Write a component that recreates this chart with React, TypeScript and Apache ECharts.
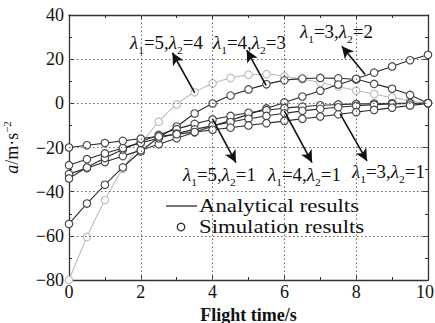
import React, { useEffect, useRef } from "react";
import * as echarts from "echarts";

const times = [0, 0.5, 1, 1.5, 2, 2.5, 3, 3.5, 4, 4.5, 5, 5.5, 6, 6.5, 7, 7.5, 8, 8.5, 9, 9.5, 10];
const s54 = [-80, -60.5, -43.8, -29.6, -18.5, -8.3, -0.5, 5.0, 9.0, 11.5, 12.9, 13.2, 12.3, 11.0, 9.4, 7.5, 5.8, 4.2, 2.6, 1.2, 0];
const s43 = [-54.6, -45.4, -36.9, -29.0, -21.8, -15.5, -10.5, -4.6, -0.1, 3.5, 6.3, 8.6, 10.4, 11.2, 11.5, 11.3, 10.8, 8.8, 6.6, 3.8, 0];
const s32 = [-32, -29.3, -26.6, -23.9, -21.2, -18.5, -15.8, -13.1, -10.4, -7.7, -5.0, -2.3, 0.4, 3.1, 5.7, 8.5, 11.1, 13.9, 16.7, 19.5, 22];
const s51 = [-34, -29.1, -24.8, -20.9, -17.4, -14.3, -11.7, -9.3, -7.3, -5.7, -4.3, -3.1, -2.2, -1.5, -0.9, -0.5, -0.3, -0.1, 0, 0, 0];
const s41 = [-28, -25.3, -22.7, -20.2, -17.9, -15.8, -13.7, -11.8, -10.1, -8.5, -7.0, -5.7, -4.5, -3.4, -2.5, -1.8, -1.1, -0.6, -0.3, -0.1, 0];
const s31 = [-20, -19, -18, -17, -16, -15, -14, -13, -12, -11, -10, -9, -8, -7, -6, -5, -4, -3, -2, -1, 0];

const xGrid = [2, 4, 6, 8];
const yGrid = [-60, -40, -20, 0, 20];

const curveNames = ["λ1=5,λ2=4", "λ1=4,λ2=3", "λ1=3,λ2=2", "λ1=5,λ2=1", "λ1=4,λ2=1", "λ1=3,λ2=1"];
const curveData = [s54, s43, s32, s51, s41, s31];
const curveLabels = [
  ["5", "4"],
  ["4", "3"],
  ["3", "2"],
  ["5", "1"],
  ["4", "1"],
  ["3", "1"],
];
// arrows: [tail (on curve), head (at label)] in data coords
const arrowPairs = [
  [[3.5, 4.8], [2.88, 22.9]],
  [[5.49, 8.1], [4.95, 24.1]],
  [[8.25, 13.1], [7.6, 25.9]],
  [[4.0, -7.2], [4.65, -26.8]],
  [[6.0, -3.5], [6.77, -26.8]],
  [[7.55, -4.7], [8.3, -26.1]],
];

const FONT = '"Liberation Serif", "Times New Roman", serif';
const DARK = "#2a2a2a";
const LIGHT = "#bdbdbd";

export default function App() {
  const ref = useRef<HTMLDivElement>(null);
  useEffect(() => {
    if (!ref.current) return;
    const chart = echarts.init(ref.current, null, { renderer: "svg" });
    const fmtY = (v: number) => (v < 0 ? "\u2212" + Math.abs(v) : String(v));
    const axisCommon = {
      axisLine: { show: true, onZero: false, lineStyle: { color: "#333", width: 1.3 } },
      axisTick: { show: true, inside: true, length: 5, lineStyle: { color: "#333" } },
      minorTick: { show: true, splitNumber: 2, length: 3, lineStyle: { color: "#333" } },
    };
    const rich = {
      l: { fontFamily: FONT, fontSize: 18, fontStyle: "italic", lineHeight: 26, color: "#111" },
      s: { fontFamily: FONT, fontSize: 11, lineHeight: 11, verticalAlign: "bottom", color: "#111" },
      t: { fontFamily: FONT, fontSize: 18, lineHeight: 26, color: "#111" },
    };
    const labelPos = [
      [130, 43],
      [213, 43],
      [300, 32],
      [183, 175],
      [268, 175],
      [352, 172],
    ];
    const graphics: any[] = curveLabels.map((p, i) => ({
      type: "text",
      x: labelPos[i][0],
      y: labelPos[i][1],
      scaleX: 1.05,
      style: {
        text: `{l|λ}{s|1}{t|=${p[0]},}{l|λ}{s|2}{t|=${p[1]}}`,
        rich,
        align: "left",
        verticalAlign: "middle",
        fill: "#111",
      },
    }));
    graphics.push(
      { type: "line", shape: { x1: 166, y1: 206, x2: 197, y2: 206 }, style: { stroke: DARK, lineWidth: 1.3 } },
      {
        type: "text", x: 199, y: 206, scaleX: 1.2,
        style: { text: "Analytical results", font: `19px ${FONT}`, fill: "#111", align: "left", verticalAlign: "middle" },
      },
      { type: "circle", shape: { cx: 181, cy: 227, r: 3.8 }, style: { stroke: DARK, fill: "#fff", lineWidth: 1.2 } },
      {
        type: "text", x: 199, y: 227, scaleX: 1.2,
        style: { text: "Simulation results", font: `19px ${FONT}`, fill: "#111", align: "left", verticalAlign: "middle" },
      }
    );

    const series: any[] = [
      {
        name: "grid",
        type: "line",
        data: [],
        silent: true,
        z: 1,
        markLine: {
          silent: true,
          symbol: ["none", "none"],
          label: { show: false },
          lineStyle: { color: "#666", type: [1.5, 2.5], width: 1 },
          data: [...xGrid.map((v) => ({ xAxis: v })), ...yGrid.map((v) => ({ yAxis: v }))],
        },
      },
    ];
    curveData.forEach((d, i) =>
      series.push({
        name: curveNames[i],
        type: "line",
        data: times.map((t, k) => [t, d[k]]),
        smooth: 0.3,
        symbol: "circle",
        symbolSize: 7.5,
        showSymbol: true,
        lineStyle: { color: i === 0 ? LIGHT : DARK, width: 1.1 },
        itemStyle: { color: "#fff", borderColor: i === 0 ? LIGHT : "#444", borderWidth: 1.1 },
        z: i === 0 ? 2 : 3,
        silent: true,
      })
    );
    series[3].markLine = {
      silent: true,
      symbol: ["none", "arrow"],
      symbolSize: [9, 12],
      label: { show: false },
      lineStyle: { color: "#111", width: 1.6, type: "solid" },
      data: arrowPairs.map((p) => [
        { coord: p[0], symbol: "none" },
        { coord: p[1], symbol: "arrow" },
      ]),
    };

    chart.setOption({
      animation: false,
      backgroundColor: "#fff",
      grid: { left: 69, right: 7, top: 15, bottom: 43, show: false, containLabel: false, outerBoundsMode: "none" },
      xAxis: [
        {
          type: "value", min: 0, max: 10, interval: 2,
          name: "Flight time/s", nameLocation: "middle", nameGap: 15,
          nameTextStyle: { fontFamily: FONT, fontSize: 18, lineHeight: 18, fontWeight: "bold", color: "#111" },
          axisLabel: {
            fontFamily: FONT, fontSize: 18, color: "#111", margin: 3,
            formatter: (v: number) => (v === 10 ? "{e|10}" : String(v)),
            rich: { e: { fontFamily: FONT, fontSize: 18, color: "#111", padding: [0, 6, 0, 0] } },
          },
          splitLine: { show: false },
          ...axisCommon,
        },
        {
          type: "value", min: 0, max: 10, interval: 2, position: "top",
          axisLabel: { show: false }, splitLine: { show: false },
          ...axisCommon,
        },
      ],
      yAxis: [
        {
          type: "value", min: -80, max: 40, interval: 20,
          name: "{i|a}{n|/m·s}{p|−2}", nameLocation: "middle", nameGap: 46,
          nameTextStyle: {
            fontFamily: FONT, fontSize: 17, color: "#111",
            rich: {
              i: { fontFamily: FONT, fontSize: 18, fontStyle: "italic", lineHeight: 22, color: "#111" },
              n: { fontFamily: FONT, fontSize: 18, lineHeight: 22, color: "#111" },
              p: { fontFamily: FONT, fontSize: 11, lineHeight: 11, verticalAlign: "top", color: "#111" },
            },
          },
          axisLabel: { fontFamily: FONT, fontSize: 18, color: "#111", margin: 5, formatter: fmtY },
          splitLine: { show: false },
          ...axisCommon,
        },
        {
          type: "value", min: -80, max: 40, interval: 20, position: "right",
          axisLabel: { show: false }, splitLine: { show: false },
          ...axisCommon,
        },
      ],
      series,
      graphic: graphics,
    });
    return () => chart.dispose();
  }, []);
  return <div ref={ref} style={{ position: "fixed", left: 0, top: 0, width: 435, height: 323, background: "#fff" }} />;
}
